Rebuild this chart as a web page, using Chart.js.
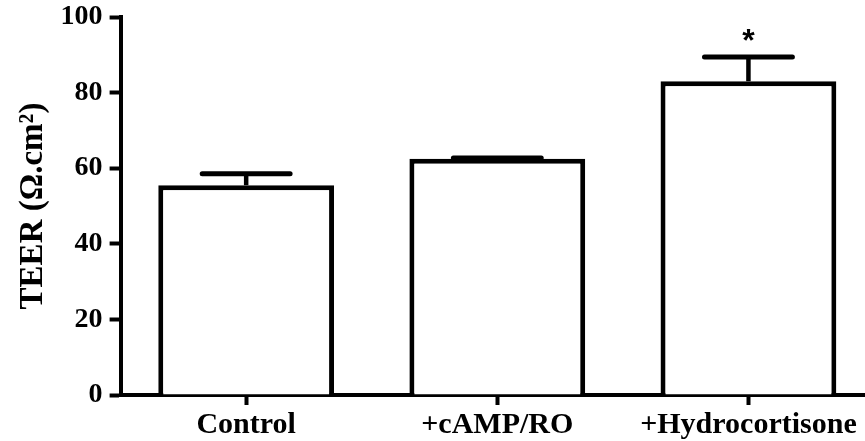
<!DOCTYPE html>
<html><head><meta charset="utf-8">
<script src="https://cdn.jsdelivr.net/npm/chart.js@4/dist/chart.umd.min.js"></script>
<style>html,body{margin:0;padding:0;background:#fff;overflow:hidden}#wrap{width:874px;height:441px;position:relative}</style>
</head><body><div id="wrap"><canvas id="c"></canvas></div>
<script>
const categories = ['Control', '+cAMP/RO', '+Hydrocortisone'];
const teerMeans = [55.5, 62.5, 83];
const teerSEM = [3.0, 0.2, 6.4];
const significance = ['', '', '*'];
const yTickValues = [0, 20, 40, 60, 80, 100];
const yTitle = 'TEER (\u03A9.cm\u00B2)';

const errorBars = {
  id: 'errorBars',
  afterDatasetsDraw(chart) {
    const ctx = chart.ctx;
    const meta = chart.getDatasetMeta(0);
    const ys = chart.scales.y;
    ctx.save();
    ctx.strokeStyle = '#000';
    meta.data.forEach((bar, i) => {
      const x = bar.x;
      const yTop = ys.getPixelForValue(teerMeans[i]);
      const yCap = ys.getPixelForValue(teerMeans[i] + teerSEM[i]);
      const half = bar.width * 0.25;
      ctx.lineWidth = 4.5;
      ctx.lineCap = 'butt';
      ctx.beginPath(); ctx.moveTo(x, yTop); ctx.lineTo(x, yCap); ctx.stroke();
      ctx.lineWidth = 5;
      ctx.lineCap = 'round';
      ctx.beginPath(); ctx.moveTo(x - half, yCap); ctx.lineTo(x + half, yCap); ctx.stroke();
      if (significance[i]) {
        ctx.fillStyle = '#000';
        ctx.font = 'bold 32px "Liberation Sans", Arial, sans-serif';
        ctx.textAlign = 'center';
        ctx.textBaseline = 'alphabetic';
        ctx.fillText(significance[i], x, yCap - 6);
      }
    });
    ctx.restore();
  }
};

new Chart(document.getElementById('c'), {
  type: 'bar',
  data: {
    labels: categories,
    datasets: [{
      data: teerMeans,
      backgroundColor: '#fff',
      borderColor: '#000',
      borderWidth: 5,
      borderSkipped: 'start',
      categoryPercentage: 1,
      barPercentage: 0.7
    }]
  },
  options: {
    responsive: true,
    maintainAspectRatio: false,
    animation: false,
    devicePixelRatio: 1,
    layout: { padding: { top: 17, right: 0, left: 14, bottom: -4 } },
    plugins: { legend: { display: false }, tooltip: { enabled: false } },
    scales: {
      x: {
        offset: true,
        grid: { display: true, drawOnChartArea: false, offset: false, tickLength: 10, tickWidth: 4, tickColor: '#000', color: '#000' },
        border: { display: true, color: '#000', width: 4 },
        ticks: { color: '#000', padding: 2, maxRotation: 0, font: { family: '"Liberation Serif", "Times New Roman", serif', size: 30, weight: 'bold' } }
      },
      y: {
        min: 0, max: 100,
        afterBuildTicks(scale) { scale.ticks = yTickValues.map(v => ({ value: v })); },
        afterFit(scale) { scale.paddingTop = 0; },
        grid: { display: true, drawOnChartArea: false, tickLength: 11, tickWidth: 4, tickColor: '#000' },
        border: { display: true, color: '#000', width: 4 },
        ticks: { color: '#000', padding: 7, font: { family: '"Liberation Serif", "Times New Roman", serif', size: 28, weight: 'bold' } },
        title: { display: true, text: yTitle, color: '#000', padding: { top: 0, bottom: 0 }, font: { family: '"Liberation Serif", "Times New Roman", serif', size: 33, weight: 'bold' } }
      }
    }
  },
  plugins: [errorBars]
});
</script></body></html>
